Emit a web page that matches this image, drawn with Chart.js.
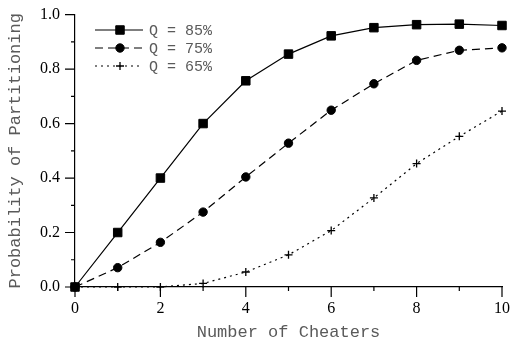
<!DOCTYPE html>
<html>
<head>
<meta charset="utf-8">
<script src="https://cdn.jsdelivr.net/npm/chart.js@4/dist/chart.umd.min.js"></script>
<style>
  html, body { margin: 0; padding: 0; background: #fff; }
  #c { display: block; }
</style>
</head>
<body>
<canvas id="c" width="512" height="343"></canvas>
<script>
// ---- data ----
const cheaters = [0, 1, 2, 3, 4, 5, 6, 7, 8, 9, 10];
const q85 = [0, 0.20, 0.40, 0.60, 0.757, 0.855, 0.922, 0.952, 0.963, 0.965, 0.960];
const q75 = [0, 0.071, 0.164, 0.275, 0.404, 0.528, 0.649, 0.746, 0.832, 0.869, 0.878];
const q65 = [0, 0, 0, 0.013, 0.055, 0.118, 0.207, 0.327, 0.453, 0.553, 0.646];
const seriesLabels = ['Q = 85%', 'Q = 75%', 'Q = 65%'];
const xTicks = [0, 2, 4, 6, 8, 10];
const yTicks = [0.0, 0.2, 0.4, 0.6, 0.8, 1.0];
const xTitle = 'Number of Cheaters';
const yTitle = 'Probability of Partitioning';

const toPoints = arr => cheaters.map((x, i) => ({ x: x, y: arr[i] }));

const MONO = "'Liberation Mono', 'Courier New', Courier, monospace";
const SERIF = "'Liberation Serif', 'Times New Roman', Times, serif";

// minor/major tick marks drawn through the scales
const tickPlugin = {
  id: 'ticksMarks',
  afterDraw(chart) {
    const ctx = chart.ctx;
    const xs = chart.scales.x, ys = chart.scales.y;
    const a = chart.chartArea;
    ctx.save();
    ctx.strokeStyle = '#000';
    ctx.lineWidth = 1.2;
    ctx.beginPath();
    for (let i = 0; i <= 10; i++) {
      const v = i / 10;
      const py = ys.getPixelForValue(v);
      const len = (i % 2 === 0) ? 10 : 4;
      ctx.moveTo(a.left, py);
      ctx.lineTo(a.left - len, py);
    }
    for (let i = 0; i <= 10; i++) {
      const px = xs.getPixelForValue(i);
      const len = (i % 2 === 0) ? 10 : 4;
      ctx.moveTo(px, a.bottom);
      ctx.lineTo(px, a.bottom + len);
    }
    ctx.stroke();
    ctx.restore();
  }
};

// in-plot legend with line sample + marker
const legendPlugin = {
  id: 'inLegend',
  afterDraw(chart) {
    const ctx = chart.ctx;
    const x0 = 95, x1 = 143, xm = 120, tx = 149;
    const ys0 = 30, dy = 18;
    chart.data.datasets.forEach((ds, i) => {
      const y = ys0 + i * dy;
      ctx.save();
      ctx.strokeStyle = ds.borderColor;
      ctx.lineWidth = ds.borderWidth;
      ctx.setLineDash(ds.borderDash || []);
      ctx.beginPath();
      ctx.moveTo(x0, y);
      ctx.lineTo(x1, y);
      ctx.stroke();
      ctx.setLineDash([]);
      ctx.fillStyle = ds.pointBackgroundColor;
      ctx.strokeStyle = ds.pointBorderColor;
      ctx.lineWidth = ds.pointBorderWidth;
      Chart.helpers.drawPoint(ctx, {
        pointStyle: ds.pointStyle, radius: ds.pointRadius, rotation: 0,
        borderWidth: ds.pointBorderWidth
      }, xm, y);
      ctx.fillStyle = '#5a5a5a';
      ctx.font = '15px ' + MONO;
      ctx.textAlign = 'left';
      ctx.textBaseline = 'middle';
      ctx.fillText(ds.label, tx, y + 1);
      ctx.restore();
    });
  }
};

new Chart(document.getElementById('c'), {
  type: 'line',
  data: {
    datasets: [
      {
        label: seriesLabels[0], data: toPoints(q85),
        borderColor: '#000', borderWidth: 1.2, borderDash: [],
        pointStyle: 'rect', pointRadius: 6, pointBackgroundColor: '#000',
        pointBorderColor: '#000', pointBorderWidth: 1, clip: false, tension: 0
      },
      {
        label: seriesLabels[1], data: toPoints(q75),
        borderColor: '#000', borderWidth: 1.2, borderDash: [8, 5],
        pointStyle: 'circle', pointRadius: 4.2, pointBackgroundColor: '#000',
        pointBorderColor: '#000', pointBorderWidth: 1, clip: false, tension: 0
      },
      {
        label: seriesLabels[2], data: toPoints(q65),
        borderColor: '#000', borderWidth: 1.2, borderDash: [2, 4],
        pointStyle: 'cross', pointRadius: 4, pointBackgroundColor: '#000',
        pointBorderColor: '#000', pointBorderWidth: 1.3, clip: false, tension: 0
      }
    ]
  },
  options: {
    responsive: false,
    animation: false,
    layout: { padding: { top: 11, right: 9, left: 0, bottom: 0 } },
    plugins: {
      legend: { display: false },
      tooltip: { enabled: false }
    },
    scales: {
      x: {
        type: 'linear', min: 0, max: 10,
        afterBuildTicks: s => { s.ticks = xTicks.map(v => ({ value: v })); },
        afterFit: s => { s.height = 56; },
        grid: { display: true, drawOnChartArea: false, drawTicks: true, tickLength: 10, color: 'rgba(0,0,0,0)' },
        border: { display: true, color: '#000', width: 1.2 },
        ticks: { color: '#000', font: { family: SERIF, size: 16 }, padding: 2, maxRotation: 0,
                 callback: v => String(v) },
        title: { display: true, text: xTitle, color: '#5a5a5a',
                 font: { family: MONO, size: 17, lineHeight: 1 }, padding: { top: 0, bottom: 2 } }
      },
      y: {
        type: 'linear', min: 0, max: 1,
        afterBuildTicks: s => { s.ticks = yTicks.map(v => ({ value: v })); },
        afterFit: s => { s.width = 75; },
        grid: { display: true, drawOnChartArea: false, drawTicks: true, tickLength: 10, color: 'rgba(0,0,0,0)' },
        border: { display: true, color: '#000', width: 1.2 },
        ticks: { color: '#000', font: { family: SERIF, size: 16 }, padding: 5,
                 callback: v => Number(v).toFixed(1) },
        title: { display: true, text: yTitle, color: '#5a5a5a',
                 font: { family: MONO, size: 17, lineHeight: 1 }, padding: { top: 6.5, bottom: 0 } }
      }
    }
  },
  plugins: [tickPlugin, legendPlugin]
});
</script>
</body>
</html>
